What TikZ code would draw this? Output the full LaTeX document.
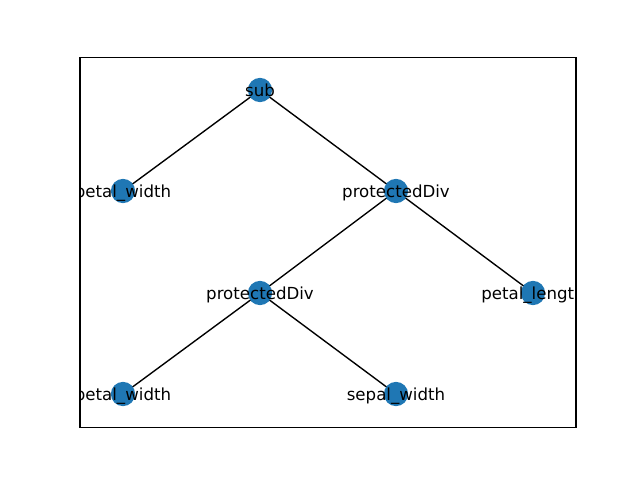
\documentclass[tikz,border=0pt]{standalone}
\usepackage{fontspec}
\setmainfont{DejaVu Sans}
\definecolor{mplblue}{HTML}{1F77B4}
\begin{document}
\begin{tikzpicture}[x=0.01in,y=-0.01in,
  vert/.style={circle,fill=mplblue,inner sep=0pt,minimum size=17.5pt},
  lbl/.style={font=\fontsize{12pt}{14pt}\selectfont,inner sep=0pt,text=black,anchor=base,yshift=-4.7pt},
  edge/.style={draw=black,line width=1pt}]
\useasboundingbox (0,0) rectangle (640,480);
\fill[white] (0,0) rectangle (640,480);
\coordinate (ps) at (260,90);
\coordinate (p1) at (123,191);
\coordinate (pd1) at (396,191);
\coordinate (pd2) at (260,293);
\coordinate (pl) at (533,293);
\coordinate (p2) at (123,394);
\coordinate (sw) at (396,394);
\draw[edge] (ps) -- (p1);
\draw[edge] (ps) -- (pd1);
\draw[edge] (pd1) -- (pd2);
\draw[edge] (pd1) -- (pl);
\draw[edge] (pd2) -- (p2);
\draw[edge] (pd2) -- (sw);
\foreach \c in {ps,p1,pd1,pd2,pl,p2,sw} \node[vert] (n\c) at (\c) {};
\begin{scope}
\clip (80,57.6) rectangle (576,427.2);
\node[lbl] (tps) at (ps) {sub};
\node[lbl] (tp1) at (p1) {petal\_width};
\node[lbl] (tpd1) at (pd1) {protectedDiv};
\node[lbl] (tpd2) at (pd2) {protectedDiv};
\node[lbl] (tpl) at (pl) {petal\_length};
\node[lbl] (tp2) at (p2) {petal\_width};
\node[lbl] (tsw) at (sw) {sepal\_width};
\end{scope}
\draw[line width=0.8pt] (80,57.6) rectangle (576,427.2);
\end{tikzpicture}
\end{document}
